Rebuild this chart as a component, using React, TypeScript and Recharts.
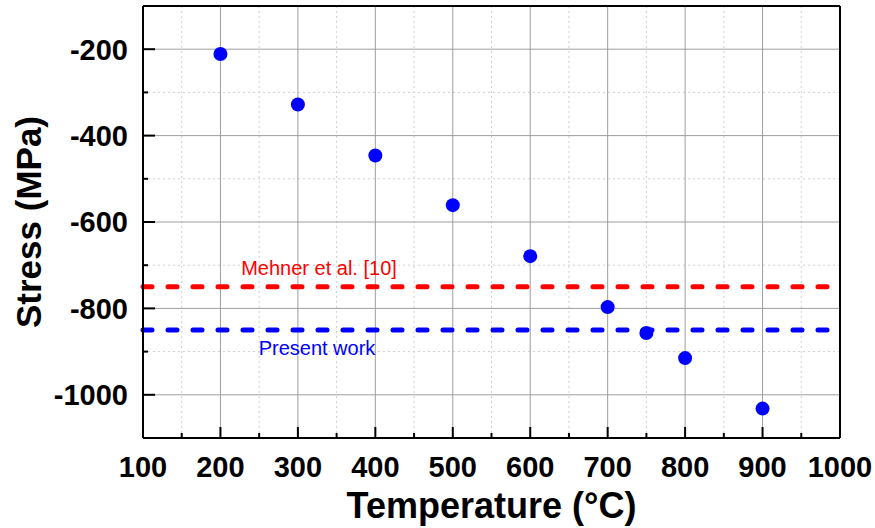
import { ReferenceLine, Scatter, ScatterChart, XAxis, YAxis, Label } from "recharts";

const temperatures = [200, 300, 400, 500, 600, 700, 750, 800, 900];
const stresses = [-211, -328, -446, -561, -679, -797, -857, -915, -1032];

const xMajorTicks = [100, 200, 300, 400, 500, 600, 700, 800, 900, 1000];
const xMinorTicks = [150, 250, 350, 450, 550, 650, 750, 850, 950];
const yMajorTicks = [-200, -400, -600, -800, -1000];
const yMinorTicks = [-100, -300, -500, -700, -900, -1100];

const mehnerValue = -750;
const presentValue = -850;

const points = temperatures.map((t, i) => ({ t, s: stresses[i] }));
const xTicks = [...xMajorTicks, ...xMinorTicks].sort((a, b) => a - b);
const yTicks = [...yMajorTicks, ...yMinorTicks].sort((a, b) => a - b);

const FONT = "'Liberation Sans', Arial, sans-serif";

function BottomTick({ x, y, payload }: any) {
  const major = xMajorTicks.includes(payload.value);
  return (
    <g>
      <line x1={x} x2={x} y1={y} y2={y - (major ? 11 : 5)} stroke="#000" strokeWidth={2} />
      {major && (
        <text x={x} y={y + 39} textAnchor="middle" fontSize={29} fontWeight="bold" fontFamily={FONT} fill="#000">
          {payload.value}
        </text>
      )}
    </g>
  );
}

function LeftTick({ x, y, payload }: any) {
  const major = yMajorTicks.includes(payload.value);
  return (
    <g>
      <line x1={x} x2={x + (major ? 12 : 5)} y1={y} y2={y} stroke="#000" strokeWidth={2} />
      {major && (
        <text x={x - 15} y={y} dy="0.36em" textAnchor="end" fontSize={29} fontWeight="bold" fontFamily={FONT} fill="#000">
          {payload.value}
        </text>
      )}
    </g>
  );
}

function RightTick({ x, y, payload }: any) {
  const major = yMajorTicks.includes(payload.value);
  return <line x1={x} x2={x - (major ? 12 : 6)} y1={y} y2={y} stroke="#000" strokeWidth={2} />;
}

function Dot({ cx, cy }: any) {
  return <circle cx={cx} cy={cy} r={7} fill="#0000ff" />;
}

export default function App() {
  return (
    <div style={{ position: "absolute", left: 0, top: 0, background: "#fff" }}>
      <ScatterChart width={875} height={528} margin={{ top: 6, right: 34, bottom: 0, left: 0 }}>
        <XAxis
          type="number"
          dataKey="t"
          domain={[100, 1000]}
          ticks={xTicks}
          interval={0}
          tickSize={0}
          tickMargin={0}
          tickLine={false}
          tick={<BottomTick />}
          axisLine={{ stroke: "#000", strokeWidth: 2 }}
          height={90}
        >
          <Label
            content={({ viewBox }: any) => (
              <text
                x={viewBox.x + viewBox.width / 2}
                y={viewBox.y + 80}
                textAnchor="middle"
                fontSize={36}
                fontWeight="bold"
                fontFamily={FONT}
                fill="#000"
              >
                Temperature (°C)
              </text>
            )}
          />
        </XAxis>
        <YAxis
          type="number"
          dataKey="s"
          domain={[-1100, -100]}
          ticks={yTicks}
          interval={0}
          tickSize={0}
          tickMargin={0}
          tickLine={false}
          tick={<LeftTick />}
          axisLine={{ stroke: "#000", strokeWidth: 2 }}
          width={143}
        >
          <Label
            content={({ viewBox }: any) => {
              const cx = viewBox.x + 28;
              const cy = viewBox.y + viewBox.height / 2;
              return (
                <text
                  x={cx}
                  y={cy}
                  dy="0.36em"
                  transform={`rotate(-90 ${cx} ${cy})`}
                  textAnchor="middle"
                  fontSize={35}
                  fontWeight="bold"
                  fontFamily={FONT}
                  fill="#000"
                >
                  Stress (MPa)
                </text>
              );
            }}
          />
        </YAxis>
        <YAxis
          yAxisId="right"
          orientation="right"
          type="number"
          domain={[-1100, -100]}
          ticks={yTicks}
          interval={0}
          tickSize={0}
          tickMargin={0}
          tickLine={false}
          tick={<RightTick />}
          axisLine={{ stroke: "#000", strokeWidth: 2 }}
          width={1}
        />

        {xMinorTicks.map((v) => (
          <ReferenceLine key={`xm${v}`} x={v} stroke="#cfcfcf" strokeDasharray="2 3" />
        ))}
        {yMinorTicks.slice(1, -1).map((v) => (
          <ReferenceLine key={`ym${v}`} y={v} stroke="#cfcfcf" strokeDasharray="2 3" />
        ))}
        {xMajorTicks.slice(1, -1).map((v) => (
          <ReferenceLine key={`xM${v}`} x={v} stroke="#9e9e9e" />
        ))}
        {yMajorTicks.map((v) => (
          <ReferenceLine key={`yM${v}`} y={v} stroke="#9e9e9e" />
        ))}
        <ReferenceLine y={-100} stroke="#000" strokeWidth={2} />

        <ReferenceLine
          y={mehnerValue}
          stroke="#ff0000"
          strokeWidth={5}
          strokeDasharray="9 16"
          strokeLinecap="round"
          label={({ viewBox }: any) => (
            <text x={viewBox.x + 176} y={viewBox.y - 12} textAnchor="middle" fontSize={20} fontFamily={FONT} fill="#ff0000">
              Mehner et al. [10]
            </text>
          )}
        />
        <ReferenceLine
          y={presentValue}
          stroke="#0000ff"
          strokeWidth={5}
          strokeDasharray="9 16"
          strokeLinecap="round"
          label={({ viewBox }: any) => (
            <text x={viewBox.x + 174} y={viewBox.y + 25} textAnchor="middle" fontSize={20} fontFamily={FONT} fill="#0000ff">
              Present work
            </text>
          )}
        />

        <Scatter data={points} shape={<Dot />} isAnimationActive={false} />
      </ScatterChart>
    </div>
  );
}
